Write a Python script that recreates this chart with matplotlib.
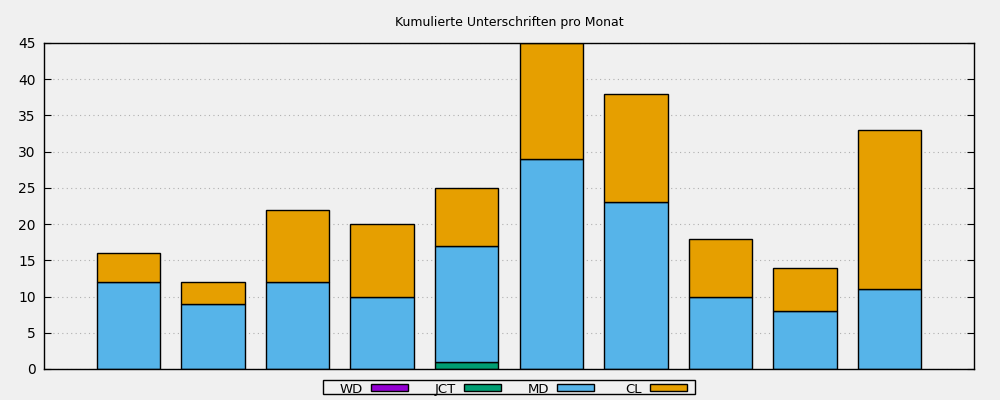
import numpy as np
import matplotlib.pyplot as plt
from matplotlib.patches import Rectangle

# monthly signatures per group (stacked)
months = list(range(10))
wd  = [0, 0, 0, 0, 0, 0, 0, 0, 0, 0]
jct = [0, 0, 0, 0, 1, 0, 0, 0, 0, 0]
md  = [12, 9, 12, 10, 16, 29, 23, 10, 8, 11]
cl  = [4, 3, 10, 10, 8, 16, 15, 8, 6, 22]

series = [('WD', wd, '#9400d3'), ('JCT', jct, '#009e73'),
          ('MD', md, '#56b4e9'), ('CL', cl, '#e69f00')]

bg = '#f0f0f0'
W, H = 1000, 400
fig = plt.figure(figsize=(10, 4), dpi=100, facecolor=bg)
ax = fig.add_axes([0.044, 0.0775, 0.930, 0.815], facecolor=bg)

bottom = np.zeros(len(months))
for name, vals, col in series:
    vals = np.array(vals, dtype=float)
    mask = vals > 0
    ax.bar(np.array(months)[mask], vals[mask], bottom=bottom[mask], width=0.75,
           color=col, edgecolor='black', linewidth=1)
    bottom += vals

ax.set_xlim(-1, 10)
ax.set_ylim(0, 45)
ax.set_yticks(range(0, 46, 5))
ax.set_xticks([])
ax.tick_params(axis='y', direction='in', right=True, left=True, length=5,
               labelsize=10, pad=6)
ax.yaxis.grid(True, linestyle=(0, (1, 3)), color='#b0b0b0', linewidth=0.8)
ax.set_axisbelow(True)
for s in ax.spines.values():
    s.set_linewidth(1)

fig.text(0.509, 0.943, 'Kumulierte Unterschriften pro Monat', ha='center',
         va='center', fontsize=9)

# gnuplot style key: right aligned label, sample to the right
def px(x, y):
    return x / W, 1 - y / H

x0, y0 = px(323, 394)
fig.patches.append(Rectangle((x0, y0), 372 / W, 14 / H, transform=fig.transFigure,
                             facecolor=bg, edgecolor='black', linewidth=1))
for i, (name, _, col) in enumerate(series):
    sx = 371 + i * 93
    tx, ty = px(sx - 8, 388)
    fig.text(tx, ty, name, ha='right', va='center_baseline', fontsize=9.5)
    rx, ry = px(sx, 391)
    fig.patches.append(Rectangle((rx, ry), 37 / W, 7 / H, transform=fig.transFigure,
                                 facecolor=col, edgecolor='black', linewidth=1))

fig.savefig('out.png', dpi=100, facecolor=bg)
